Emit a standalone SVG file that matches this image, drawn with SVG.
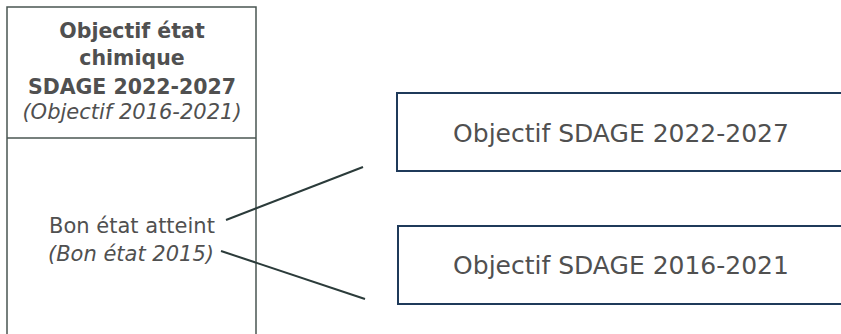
<svg xmlns="http://www.w3.org/2000/svg" width="841" height="334" viewBox="0 0 841 334">
  <style>
    .t { font-family: "DejaVu Sans", "Liberation Sans", sans-serif; fill: #505050; text-anchor: middle; }
    .b { font-weight: bold; font-size: 20.5px; }
    .i { font-style: italic; font-size: 21px; }
    .r { font-size: 21px; }
    .big { font-size: 25px; }
    .tbl { fill: #ffffff; stroke: #4a5652; stroke-width: 1.5; }
    .box { fill: #ffffff; stroke: #1f3a5a; stroke-width: 2; }
    .conn { stroke: #2b3b3a; stroke-width: 2; fill: none; }
  </style>
  <rect x="0" y="0" width="841" height="334" fill="#ffffff"/>
  <g id="table">
    <path class="tbl" d="M7,340 L7,7 L256,7 L256,340"/>
    <line x1="7" y1="138" x2="256" y2="138" stroke="#4a5652" stroke-width="1.5"/>
    <text class="t b" x="132" y="38">Objectif état</text>
    <text class="t b" x="132" y="65">chimique</text>
    <text class="t b" x="132" y="94">SDAGE 2022-2027</text>
    <text class="t i" x="132" y="119">(Objectif 2016-2021)</text>
  </g>
  <g id="status">
    <text class="t r" x="132" y="233">Bon état atteint</text>
    <text class="t i" x="131" y="261">(Bon état 2015)</text>
  </g>
  <g id="obj2022">
    <rect class="box" x="397" y="93" width="460" height="78"/>
    <text class="t big" x="621" y="142">Objectif SDAGE 2022-2027</text>
  </g>
  <g id="obj2016">
    <rect class="box" x="398" y="226" width="460" height="78"/>
    <text class="t big" x="621" y="274">Objectif SDAGE 2016-2021</text>
  </g>
  <g id="connectors">
    <line class="conn" x1="226" y1="220" x2="363" y2="167"/>
    <line class="conn" x1="221" y1="251" x2="365" y2="299"/>
  </g>
</svg>
